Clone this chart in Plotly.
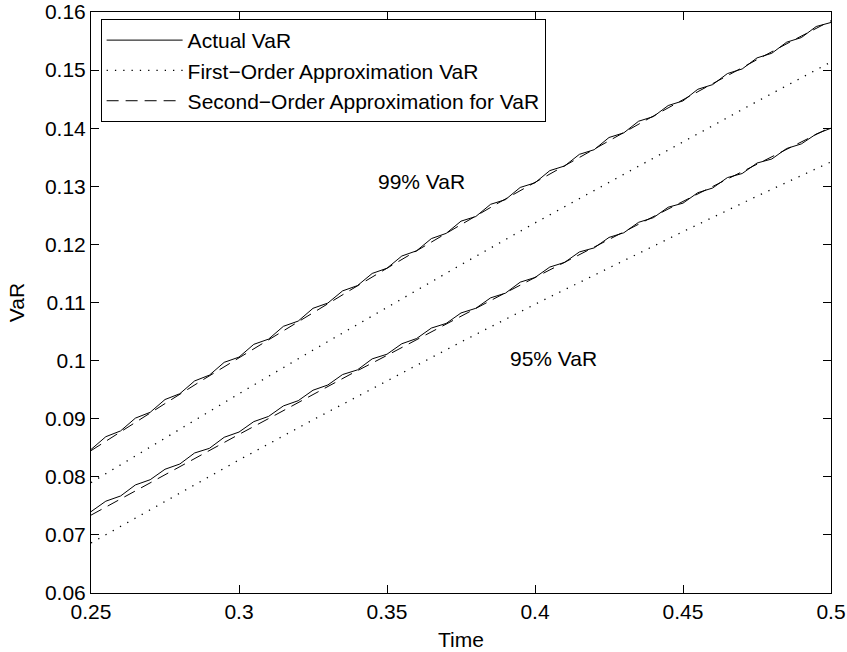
import plotly.graph_objects as go

# ---- data ----
time_fine = [round(0.25 + 0.005 * i, 4) for i in range(51)]
actual_99 = [0.0847, 0.0869, 0.0879, 0.0901, 0.0911, 0.0933, 0.0943, 0.0965, 0.0975, 0.0997,
             0.1006, 0.1028, 0.1037, 0.1059, 0.1068, 0.1090, 0.1099, 0.1120, 0.1129, 0.1150,
             0.1159, 0.1180, 0.1189, 0.1210, 0.1219, 0.1240, 0.1248, 0.1269, 0.1277, 0.1298,
             0.1306, 0.1327, 0.1335, 0.1355, 0.1363, 0.1384, 0.1392, 0.1412, 0.1420, 0.1439,
             0.1447, 0.1467, 0.1475, 0.1494, 0.1502, 0.1521, 0.1529, 0.1548, 0.1556, 0.1575,
             0.1582]
actual_95 = [0.0740, 0.0758, 0.0767, 0.0786, 0.0795, 0.0813, 0.0822, 0.0841, 0.0849, 0.0868,
             0.0877, 0.0895, 0.0904, 0.0922, 0.0931, 0.0949, 0.0958, 0.0976, 0.0984, 0.1003,
             0.1011, 0.1029, 0.1038, 0.1056, 0.1064, 0.1082, 0.1090, 0.1108, 0.1116, 0.1135,
             0.1143, 0.1161, 0.1169, 0.1187, 0.1194, 0.1212, 0.1220, 0.1238, 0.1246, 0.1264,
             0.1271, 0.1289, 0.1297, 0.1315, 0.1322, 0.1340, 0.1347, 0.1365, 0.1373, 0.1390,
             0.1400]

time_mid = [round(0.25 + 0.0125 * j, 4) for j in range(21)]
second_99 = [0.0845, 0.0886, 0.0926, 0.0966, 0.1005, 0.1044, 0.1083, 0.1121, 0.1159, 0.1197,
             0.1234, 0.1271, 0.1307, 0.1343, 0.1379, 0.1414, 0.1449, 0.1484, 0.1518, 0.1552,
             0.1585]
second_95 = [0.0734, 0.0769, 0.0804, 0.0839, 0.0873, 0.0907, 0.0942, 0.0976, 0.1009, 0.1043,
             0.1077, 0.1110, 0.1143, 0.1176, 0.1209, 0.1241, 0.1274, 0.1306, 0.1338, 0.1370,
             0.1402]

time_coarse = [0.25, 0.275, 0.3, 0.325, 0.35, 0.375, 0.4, 0.425, 0.45, 0.475, 0.5]
first_99 = [0.0790, 0.0867, 0.0943, 0.1018, 0.1092, 0.1165, 0.1237, 0.1307, 0.1377, 0.1446, 0.1514]
first_95 = [0.0686, 0.0758, 0.0829, 0.0898, 0.0965, 0.1032, 0.1097, 0.1160, 0.1222, 0.1283, 0.1342]

x_ticks = [0.25, 0.3, 0.35, 0.4, 0.45, 0.5]
x_tick_labels = ["0.25", "0.3", "0.35", "0.4", "0.45", "0.5"]
y_ticks = [0.06, 0.07, 0.08, 0.09, 0.10, 0.11, 0.12, 0.13, 0.14, 0.15, 0.16]
y_tick_labels = ["0.06", "0.07", "0.08", "0.09", "0.1", "0.11", "0.12", "0.13", "0.14", "0.15", "0.16"]

names = ["Actual VaR", "First\u2212Order Approximation VaR", "Second\u2212Order Approximation for VaR"]
labels_text = ["99% VaR", "95% VaR"]
labels_x = [0.3615, 0.4064]
labels_y = [0.1308, 0.1004]

FONT = "Liberation Sans, Arial, Helvetica, sans-serif"
FS = 21
solid = dict(color="black", width=1)
dotted = dict(color="black", width=1.3, dash="1.3px,7px")
dashed = dict(color="black", width=1, dash="12px,7px")

fig = go.Figure()
fig.add_trace(go.Scatter(x=time_fine, y=actual_99, mode="lines", line=solid, name=names[0],
                         legendgroup="a"))
fig.add_trace(go.Scatter(x=time_coarse, y=first_99, mode="lines", line=dotted, name=names[1],
                         legendgroup="b"))
fig.add_trace(go.Scatter(x=time_mid, y=second_99, mode="lines", line=dashed, name=names[2],
                         legendgroup="c"))
fig.add_trace(go.Scatter(x=time_fine, y=actual_95, mode="lines", line=solid, name=names[0],
                         legendgroup="a", showlegend=False))
fig.add_trace(go.Scatter(x=time_coarse, y=first_95, mode="lines", line=dotted, name=names[1],
                         legendgroup="b", showlegend=False))
fig.add_trace(go.Scatter(x=time_mid, y=second_95, mode="lines", line=dashed, name=names[2],
                         legendgroup="c", showlegend=False))

for t, lx, ly in zip(labels_text, labels_x, labels_y):
    fig.add_annotation(x=lx, y=ly, text=t, showarrow=False,
                       font=dict(size=FS, color="black", family=FONT))

axis_common = dict(showgrid=False, zeroline=False, showline=True, linecolor="black", linewidth=1,
                   mirror="ticks", ticks="inside", ticklen=8, tickcolor="black", tickwidth=1,
                   automargin=False, ticklabeloverflow="allow",
                   tickfont=dict(size=FS, color="black", family=FONT))

fig.update_layout(
    width=847, height=652,
    paper_bgcolor="white", plot_bgcolor="white",
    margin=dict(l=91, r=16, t=12, b=59),
    font=dict(family=FONT, color="black"),
    xaxis=dict(range=[0.25, 0.5], tickvals=x_ticks, ticktext=x_tick_labels,
               title=dict(text="Time", font=dict(size=FS), standoff=10), **axis_common),
    yaxis=dict(range=[0.06, 0.16], tickvals=y_ticks, ticktext=y_tick_labels,
               title=dict(text="VaR", font=dict(size=FS), standoff=14), **axis_common),
    legend=dict(x=0.013, y=0.988, xanchor="left", yanchor="top",
                bgcolor="white", bordercolor="black", borderwidth=1,
                font=dict(size=FS, color="black", family=FONT),
                tracegroupgap=0, itemwidth=76),
    showlegend=True,
)

fig.write_html("out.html", config={"displayModeBar": False},
               post_script="document.body.style.margin='0';")
